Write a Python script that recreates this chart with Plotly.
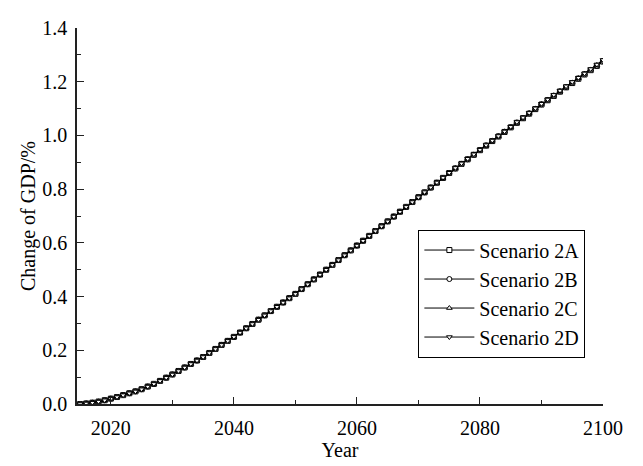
import plotly.graph_objects as go

years = list(range(2015, 2101))

scenario_2a = [
    0.000, 0.002, 0.005, 0.009, 0.014, 0.020, 0.026, 0.033, 0.040, 0.047,
    0.055, 0.065, 0.075, 0.086, 0.098, 0.110, 0.123, 0.136, 0.149, 0.162,
    0.175, 0.190, 0.205, 0.220, 0.235, 0.250, 0.266, 0.282, 0.298, 0.314,
    0.330, 0.346, 0.362, 0.378, 0.394, 0.410, 0.428, 0.446, 0.464, 0.482,
    0.500, 0.518, 0.536, 0.554, 0.572, 0.590, 0.608, 0.626, 0.644, 0.662,
    0.680, 0.698, 0.716, 0.734, 0.752, 0.770, 0.788, 0.806, 0.824, 0.842,
    0.860, 0.877, 0.894, 0.911, 0.928, 0.945, 0.962, 0.979, 0.996, 1.013,
    1.030, 1.047, 1.064, 1.081, 1.098, 1.115, 1.131, 1.147, 1.163, 1.179,
    1.195, 1.211, 1.227, 1.243, 1.259, 1.275,
]
scenario_2b = [
    0.000, 0.002, 0.005, 0.009, 0.014, 0.020, 0.026, 0.033, 0.040, 0.047,
    0.055, 0.065, 0.075, 0.086, 0.098, 0.110, 0.123, 0.136, 0.149, 0.162,
    0.175, 0.190, 0.205, 0.220, 0.235, 0.250, 0.266, 0.282, 0.298, 0.314,
    0.330, 0.346, 0.362, 0.378, 0.394, 0.410, 0.428, 0.446, 0.464, 0.482,
    0.500, 0.518, 0.536, 0.554, 0.572, 0.590, 0.608, 0.626, 0.644, 0.662,
    0.680, 0.698, 0.716, 0.734, 0.752, 0.770, 0.788, 0.806, 0.824, 0.842,
    0.860, 0.877, 0.894, 0.911, 0.928, 0.946, 0.963, 0.980, 0.997, 1.014,
    1.031, 1.048, 1.065, 1.082, 1.099, 1.116, 1.132, 1.148, 1.164, 1.180,
    1.196, 1.212, 1.228, 1.244, 1.260, 1.277,
]
scenario_2c = [
    0.000, 0.002, 0.005, 0.009, 0.014, 0.020, 0.026, 0.033, 0.040, 0.047,
    0.055, 0.065, 0.075, 0.086, 0.098, 0.110, 0.123, 0.136, 0.149, 0.162,
    0.175, 0.190, 0.205, 0.220, 0.235, 0.250, 0.266, 0.282, 0.298, 0.314,
    0.330, 0.346, 0.362, 0.378, 0.394, 0.410, 0.428, 0.446, 0.464, 0.482,
    0.500, 0.518, 0.536, 0.554, 0.572, 0.590, 0.608, 0.626, 0.644, 0.662,
    0.680, 0.698, 0.716, 0.734, 0.752, 0.770, 0.788, 0.806, 0.824, 0.842,
    0.861, 0.878, 0.895, 0.912, 0.929, 0.946, 0.963, 0.980, 0.997, 1.014,
    1.031, 1.048, 1.066, 1.083, 1.100, 1.117, 1.133, 1.149, 1.165, 1.181,
    1.197, 1.213, 1.229, 1.245, 1.262, 1.279,
]
scenario_2d = [
    0.000, 0.002, 0.005, 0.009, 0.014, 0.020, 0.026, 0.033, 0.040, 0.047,
    0.055, 0.065, 0.075, 0.086, 0.098, 0.110, 0.123, 0.136, 0.149, 0.162,
    0.175, 0.190, 0.205, 0.220, 0.235, 0.250, 0.266, 0.282, 0.298, 0.314,
    0.330, 0.346, 0.362, 0.378, 0.394, 0.410, 0.428, 0.446, 0.464, 0.482,
    0.500, 0.518, 0.536, 0.554, 0.572, 0.590, 0.608, 0.626, 0.644, 0.662,
    0.680, 0.698, 0.716, 0.734, 0.752, 0.770, 0.789, 0.807, 0.825, 0.843,
    0.861, 0.879, 0.896, 0.913, 0.930, 0.947, 0.964, 0.981, 0.998, 1.015,
    1.032, 1.050, 1.067, 1.084, 1.101, 1.118, 1.134, 1.151, 1.167, 1.183,
    1.199, 1.215, 1.231, 1.247, 1.264, 1.281,
]

series_names = ["Scenario 2A", "Scenario 2B", "Scenario 2C", "Scenario 2D"]
series_values = [scenario_2a, scenario_2b, scenario_2c, scenario_2d]
series_symbols = ["square", "circle", "triangle-up", "triangle-down"]

x_tick_vals = [2020, 2040, 2060, 2080, 2100]
y_tick_vals = [0.0, 0.2, 0.4, 0.6, 0.8, 1.0, 1.2, 1.4]

FONT = "Liberation Serif"

fig = go.Figure()
for name, vals, sym in zip(series_names, series_values, series_symbols):
    fig.add_trace(go.Scatter(
        x=years, y=vals, name=name, mode="lines+markers",
        line=dict(color="black", width=1),
        marker=dict(symbol=sym, size=5, color="white", line=dict(color="black", width=1)),
    ))

axis_common = dict(
    showgrid=False, zeroline=False, showline=True, linecolor="#222", linewidth=1.5,
    ticks="inside", ticklen=7, tickwidth=1.2, tickcolor="#222",
    tickfont=dict(family=FONT, size=20, color="black"),
    ticklabeloverflow="allow",
    mirror=False,
)

fig.update_layout(
    width=635, height=458,
    margin=dict(l=69, r=40, t=9, b=62),
    paper_bgcolor="white", plot_bgcolor="white",
    font=dict(family=FONT, size=20, color="black"),
    xaxis=dict(
        **axis_common, range=[2014.5, 2100], tickvals=x_tick_vals,
        ticklabelstandoff=5,
        minor=dict(dtick=10, tick0=2010, ticks="inside", ticklen=4, tickcolor="#222", tickwidth=1),
        title=dict(text="Year", font=dict(family=FONT, size=20), standoff=4),
    ),
    yaxis=dict(
        **axis_common, range=[0, 1.4], tickvals=y_tick_vals, tickformat=".1f",
        ticklabelstandoff=4,
        minor=dict(dtick=0.1, ticks="inside", ticklen=4, tickcolor="#222", tickwidth=1),
        title=dict(text="Change of GDP/%", font=dict(family=FONT, size=20), standoff=1),
    ),
    legend=dict(
        x=0.649, y=0.464, xanchor="left", yanchor="top",
        bgcolor="white", bordercolor="black", borderwidth=1,
        font=dict(family=FONT, size=20, color="black"),
        itemwidth=50,
        tracegroupgap=0,
    ),
    showlegend=True,
)

fig.write_html("out.html")
